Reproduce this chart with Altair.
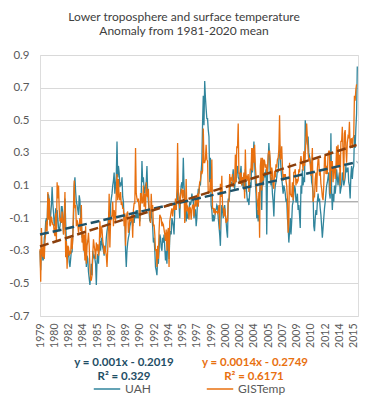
import altair as alt
import pandas as pd

title_lines = ["Lower troposphere  and surface temperature", "Anomaly from 1981-2020 mean"]
series_names = ["UAH", "GISTemp"]
series_colors = ["#31859C", "#E8700F"]
trend_colors = ["#1F5268", "#8A3F0C"]
trend_slope = [0.001, 0.0014]
trend_intercept = [-0.2019, -0.2749]
eq_text = ["y = 0.001x - 0.2019", "y = 0.0014x - 0.2749"]
r2_text = ["R\u00b2 = 0.329", "R\u00b2 = 0.6171"]
eq_colors = ["#1F4E66", "#E8700F"]

x_tick_values = list(range(0, 441, 20))
x_tick_labels = ["1979", "1980", "1982", "1984", "1985", "1987", "1989", "1990", "1992",
                 "1994", "1995", "1997", "1999", "2000", "2002", "2004", "2005", "2007",
                 "2009", "2010", "2012", "2014", "2015"]
y_tick_values = [-0.7, -0.5, -0.3, -0.1, 0.1, 0.3, 0.5, 0.7, 0.9]
y_tick_labels = ["-0.7", "-0.5", "-0.3", "-0.1", "0.1", "0.3", "0.5", "0.7", "0.9"]

# monthly anomalies, Jan 1979 onward
uah = [
    -0.30, -0.42, -0.27, -0.30, -0.36, -0.35, -0.22, -0.20, -0.12, -0.10, -0.14, 0.05,   # 1979
    0.04, 0.01, -0.14, -0.08, -0.02, 0.09, -0.01, -0.07, -0.15, -0.12, -0.04, -0.17,     # 1980
    -0.05, -0.10, -0.16, -0.17, -0.15, -0.11, -0.03, -0.03, -0.08, -0.20, -0.12, 0.02,   # 1981
    -0.12, -0.25, -0.35, -0.33, -0.30, -0.37, -0.40, -0.35, -0.30, -0.31, -0.20, -0.10,  # 1982
    0.10, 0.15, 0.06, 0.00, -0.02, -0.05, -0.08, 0.04, 0.01, -0.10, -0.14, -0.22,        # 1983
    -0.20, -0.25, -0.30, -0.33, -0.23, -0.40, -0.33, -0.35, -0.43, -0.47, -0.51, -0.45,  # 1984
    -0.38, -0.45, -0.30, -0.34, -0.33, -0.35, -0.38, -0.51, -0.36, -0.32, -0.38, -0.28,  # 1985
    -0.24, -0.30, -0.22, -0.25, -0.28, -0.30, -0.33, -0.27, -0.30, -0.22, -0.18, -0.15,  # 1986
    -0.10, -0.06, -0.15, -0.02, 0.02, 0.05, 0.10, 0.13, 0.18, 0.05, 0.10, 0.16,          # 1987
    0.37, 0.15, 0.22, 0.18, 0.09, 0.12, 0.10, 0.15, 0.03, 0.00, -0.12, -0.08,            # 1988
    -0.30, -0.40, -0.30, -0.25, -0.22, -0.20, -0.15, -0.13, -0.12, -0.10, -0.15, -0.08,  # 1989
    -0.13, -0.08, -0.10, -0.05, -0.10, -0.05, -0.10, -0.07, -0.12, 0.00, 0.05, 0.25,     # 1990
    0.12, 0.15, 0.08, 0.05, 0.10, 0.12, 0.22, 0.06, 0.00, -0.06, -0.12, -0.10,           # 1991
    -0.05, -0.10, -0.15, -0.25, -0.22, -0.30, -0.40, -0.42, -0.45, -0.35, -0.38, -0.30,  # 1992
    -0.20, -0.22, -0.28, -0.30, -0.22, -0.25, -0.20, -0.28, -0.36, -0.30, -0.38, -0.25,  # 1993
    -0.25, -0.35, -0.22, -0.18, -0.20, -0.10, -0.12, -0.15, -0.20, -0.05, -0.02, -0.05,  # 1994
    0.02, 0.08, 0.00, -0.02, -0.10, 0.05, 0.10, 0.12, 0.08, 0.27, 0.10, 0.02,            # 1995
    -0.05, -0.12, -0.05, -0.10, -0.10, -0.05, 0.00, -0.02, 0.00, 0.05, 0.02, 0.00,       # 1996
    -0.10, -0.05, -0.05, -0.15, -0.10, 0.02, 0.08, 0.05, 0.12, 0.10, 0.18, 0.25,         # 1997
    0.48, 0.65, 0.47, 0.74, 0.64, 0.57, 0.51, 0.51, 0.44, 0.40, 0.12, 0.27,              # 1998
    -0.02, -0.05, -0.12, -0.08, -0.12, -0.10, -0.05, -0.05, -0.02, -0.03, -0.10, -0.15,  # 1999
    -0.20, -0.27, -0.10, -0.02, -0.05, -0.10, -0.05, -0.02, -0.08, -0.12, -0.18, -0.22,  # 2000
    0.02, 0.00, 0.05, 0.10, 0.12, 0.10, 0.15, 0.20, 0.10, 0.08, 0.15, 0.12,              # 2001
    0.20, 0.22, 0.15, 0.14, 0.12, 0.18, 0.22, 0.10, 0.15, 0.08, 0.12, 0.06,              # 2002
    0.20, 0.10, 0.05, 0.00, 0.02, -0.02, 0.05, 0.12, 0.10, 0.28, 0.18, 0.27,             # 2003
    0.37, 0.25, 0.12, 0.05, -0.10, -0.05, -0.12, -0.05, 0.05, 0.12, 0.15, -0.05,         # 2004
    0.22, 0.10, 0.15, 0.18, 0.15, 0.20, -0.20, 0.15, 0.25, 0.36, 0.28, 0.15,             # 2005
    0.10, 0.15, 0.05, 0.00, -0.09, 0.05, 0.10, 0.12, 0.15, 0.20, 0.18, 0.25,             # 2006
    0.35, 0.30, 0.20, 0.15, 0.10, 0.05, 0.10, 0.08, 0.05, 0.00, 0.02, -0.10,             # 2007
    -0.15, -0.25, -0.18, -0.10, -0.20, -0.12, -0.02, 0.00, 0.05, 0.10, 0.08, 0.00,       # 2008
    0.00, 0.05, -0.05, -0.02, -0.08, -0.16, 0.10, 0.05, 0.20, 0.10, 0.15, 0.12,          # 2009
    0.50, 0.45, 0.38, 0.35, 0.40, 0.30, 0.28, 0.25, 0.20, 0.12, 0.10, 0.05,              # 2010
    -0.15, -0.18, -0.10, -0.05, -0.08, 0.00, 0.05, 0.00, 0.02, -0.04, -0.08, -0.15,      # 2011
    -0.22, -0.16, -0.10, -0.04, 0.00, 0.05, 0.10, 0.12, 0.15, 0.18, 0.05, 0.02,          # 2012
    0.42, 0.06, -0.05, 0.05, 0.00, 0.10, 0.05, 0.10, 0.20, 0.15, 0.10, 0.15,             # 2013
    0.18, 0.05, 0.08, 0.10, 0.18, 0.15, 0.10, 0.12, 0.15, 0.22, 0.18, 0.20,              # 2014
    0.21, 0.12, 0.10, 0.02, 0.16, 0.22, 0.14, 0.20, 0.22, 0.41, 0.33, 0.45,              # 2015
    0.54, 0.83,                                                                          # 2016
]

gis = [
    -0.29, -0.49, -0.16, -0.31, -0.34, -0.27, -0.35, -0.24, -0.19, -0.12, -0.18, 0.06,   # 1979
    -0.11, 0.02, -0.15, -0.14, -0.09, -0.12, -0.14, -0.14, -0.19, -0.21, -0.07, -0.24,   # 1980
    0.12, 0.02, 0.10, -0.05, -0.12, -0.10, -0.13, -0.06, -0.12, -0.20, -0.09, 0.06,      # 1981
    -0.34, -0.24, -0.41, -0.27, -0.28, -0.33, -0.31, -0.32, -0.22, -0.29, -0.23, -0.03,  # 1982
    0.13, -0.04, -0.02, -0.15, -0.11, -0.14, -0.19, -0.14, -0.10, -0.18, -0.02, -0.25,   # 1983
    -0.18, -0.30, -0.20, -0.36, -0.15, -0.38, -0.27, -0.24, -0.19, -0.27, -0.40, -0.48,  # 1984
    -0.48, -0.45, -0.32, -0.23, -0.27, -0.30, -0.35, -0.25, -0.30, -0.26, -0.33, -0.29,  # 1985
    -0.12, -0.22, -0.15, -0.17, -0.24, -0.27, -0.32, -0.27, -0.30, -0.33, -0.40, -0.29,  # 1986
    -0.15, 0.05, -0.28, -0.12, -0.10, -0.08, 0.00, -0.15, -0.05, -0.08, -0.12, 0.06,     # 1987
    0.17, 0.01, 0.14, 0.03, 0.01, 0.06, -0.02, 0.00, -0.04, -0.04, -0.15, -0.07,         # 1988
    -0.27, -0.10, -0.07, -0.06, -0.19, -0.16, -0.10, -0.12, -0.10, -0.08, -0.22, -0.05,  # 1989
    -0.01, -0.01, 0.33, 0.05, 0.02, 0.00, 0.02, -0.04, -0.15, 0.05, 0.05, -0.01,         # 1990
    0.00, 0.10, -0.03, 0.05, -0.05, 0.12, 0.04, 0.03, 0.08, -0.04, -0.08, -0.13,         # 1991
    0.05, -0.05, -0.02, -0.15, -0.14, -0.20, -0.30, -0.29, -0.40, -0.27, -0.35, -0.18,   # 1992
    -0.08, -0.09, -0.10, -0.15, -0.13, -0.14, -0.17, -0.20, -0.24, -0.17, -0.30, -0.19,  # 1993
    -0.16, -0.40, -0.12, -0.09, -0.06, -0.04, -0.09, -0.05, -0.02, -0.05, 0.02, -0.05,   # 1994
    0.07, 0.36, 0.06, 0.03, -0.04, 0.03, 0.07, 0.08, 0.02, 0.07, 0.07, -0.13,            # 1995
    -0.05, 0.14, -0.06, -0.03, -0.04, -0.11, -0.03, -0.04, -0.11, -0.05, -0.02, -0.02,   # 1996
    -0.09, -0.02, 0.01, -0.03, 0.01, 0.05, -0.03, 0.07, 0.12, 0.13, 0.19, 0.17,          # 1997
    0.19, 0.45, 0.24, 0.24, 0.26, 0.35, 0.26, 0.25, 0.05, 0.06, 0.06, 0.14,              # 1998
    0.06, 0.26, -0.04, -0.04, -0.07, -0.04, -0.07, -0.06, -0.06, -0.07, -0.06, -0.02,    # 1999
    -0.17, 0.11, 0.03, 0.16, -0.02, -0.04, -0.09, -0.04, -0.08, -0.13, -0.11, -0.12,     # 2000
    0.01, 0.00, 0.17, 0.10, 0.15, 0.13, 0.17, 0.09, 0.13, 0.11, 0.29, 0.12,              # 2001
    0.34, 0.33, 0.48, 0.17, 0.18, 0.11, 0.18, 0.10, 0.15, 0.13, 0.18, 0.02,              # 2002
    0.32, 0.14, 0.16, 0.13, 0.17, 0.06, 0.13, 0.20, 0.20, 0.33, 0.19, 0.33,              # 2003
    0.24, 0.35, 0.22, 0.16, 0.03, 0.00, -0.08, 0.06, -0.22, 0.22, 0.27, 0.07,            # 2004
    0.27, 0.13, 0.26, 0.25, 0.21, 0.23, 0.18, 0.19, 0.29, 0.31, 0.31, 0.25,              # 2005
    0.13, 0.21, 0.18, 0.10, 0.08, 0.19, 0.15, 0.23, 0.21, 0.26, 0.27, 0.32,              # 2006
    0.53, 0.26, 0.27, 0.34, 0.22, 0.13, 0.17, 0.15, 0.17, 0.13, 0.10, 0.02,              # 2007
    -0.19, -0.12, 0.24, 0.05, 0.04, 0.03, 0.12, 0.01, 0.18, 0.18, 0.20, 0.10,            # 2008
    0.14, 0.12, 0.13, 0.20, 0.18, 0.24, 0.28, 0.24, 0.25, 0.19, 0.31, 0.22,              # 2009
    0.29, 0.38, 0.48, 0.39, 0.30, 0.25, 0.27, 0.23, 0.16, 0.24, 0.33, 0.00,              # 2010
    0.03, 0.03, 0.14, 0.18, 0.06, 0.20, 0.26, 0.26, 0.16, 0.19, 0.11, 0.08,              # 2011
    0.03, 0.01, 0.10, 0.27, 0.29, 0.17, 0.22, 0.17, 0.29, 0.31, 0.31, 0.05,              # 2012
    0.25, 0.19, 0.25, 0.12, 0.21, 0.22, 0.14, 0.21, 0.34, 0.21, 0.35, 0.21,              # 2013
    0.29, 0.10, 0.37, 0.37, 0.46, 0.31, 0.13, 0.42, 0.44, 0.33, 0.24, 0.36,              # 2014
    0.40, 0.39, 0.49, 0.33, 0.38, 0.39, 0.33, 0.39, 0.40, 0.65, 0.62, 0.69,              # 2015
    0.72,                                                                                # 2016
]

FONT = "Lato"

uah_df = pd.DataFrame({"idx": range(len(uah)), "value": uah, "series": series_names[0]})
gis_df = pd.DataFrame({"idx": range(len(gis)), "value": gis, "series": series_names[1]})

xs = alt.Scale(domain=[0, 446], nice=False, zero=False)
ys = alt.Scale(domain=[-0.7, 0.9], nice=False, zero=False)

x_expr = "[" + ",".join("'%s'" % s for s in x_tick_labels) + "][round(datum.value/20)]"
y_expr = "[" + ",".join("'%s'" % s for s in y_tick_labels) + "][round((datum.value+0.7)/0.2)]"

xaxis = alt.Axis(values=x_tick_values, labelExpr=x_expr, labelAngle=-90, labelOverlap=False,
                 labelFlush=False, grid=False, domain=False, ticks=False, labelPadding=7,
                 labelFont=FONT, labelFontSize=10.5, labelColor="#595959")
yaxis = alt.Axis(values=y_tick_values, labelExpr=y_expr, grid=True, gridColor="#D9D9D9",
                 gridWidth=1, domain=False, ticks=False, labelPadding=11,
                 labelFont=FONT, labelFontSize=11.5, labelColor="#595959")

def X(field):
    return alt.X(field, scale=xs, axis=xaxis, title=None)

def Y(field):
    return alt.Y(field, scale=ys, axis=yaxis, title=None)

color = alt.Color("series:N", scale=alt.Scale(domain=series_names, range=series_colors),
                  legend=alt.Legend(title=None, orient="none", legendX=53, legendY=320,
                                    direction="horizontal", symbolType="stroke",
                                    symbolSize=700, symbolStrokeWidth=1.5, labelOffset=4,
                                    columnPadding=52, labelFont=FONT, labelFontSize=12,
                                    labelColor="#595959", padding=0))

zero = alt.Chart(pd.DataFrame({"z": [0]})).mark_rule(color="#8C8C8C", strokeWidth=1).encode(
    y=Y("z:Q"))

line_uah = alt.Chart(uah_df).mark_line(strokeWidth=1.3).encode(
    x=X("idx:Q"), y=Y("value:Q"), color=color)
line_gis = alt.Chart(gis_df).mark_line(strokeWidth=1.3).encode(
    x=X("idx:Q"), y=Y("value:Q"), color=color)

def trend(i, n):
    df = pd.DataFrame({"idx": [0, n - 1], "slope": trend_slope[i], "intercept": trend_intercept[i]})
    return alt.Chart(df).transform_calculate(
        trend="datum.slope*(datum.idx+1)+datum.intercept"
    ).mark_line(color=trend_colors[i], strokeWidth=2.5, strokeDash=[9, 4]).encode(
        x=X("idx:Q"), y=Y("trend:Q"))

def label(text, x, y, col, bold=True, size=11.5):
    return alt.Chart(pd.DataFrame({"t": [text]})).mark_text(
        font=FONT, fontSize=size, fontWeight="bold" if bold else "normal", color=col,
        align="center", baseline="middle").encode(
        text="t:N", x=alt.value(x), y=alt.value(y))

chart = alt.layer(
    zero, line_uah, line_gis, trend(0, len(uah)), trend(1, len(gis)),
    label(eq_text[0], 84, 308, eq_colors[0]),
    label(r2_text[0], 84, 322, eq_colors[0]),
    label(eq_text[1], 215, 308, eq_colors[1]),
    label(r2_text[1], 214, 322, eq_colors[1]),
).properties(
    width=318, height=261,
    autosize=alt.AutoSizeParams(type="none"),
    padding={"left": 32, "top": 47, "right": 4, "bottom": 80},
    title=alt.Title(title_lines, anchor="middle", font=FONT, fontSize=12, fontWeight="normal",
                    color="#404040", lineHeight=14.5, offset=11, dx=-15),
).configure_view(stroke=None).configure(background="white")

chart.save("out.html", embed_options={"renderer": "svg", "actions": False})
